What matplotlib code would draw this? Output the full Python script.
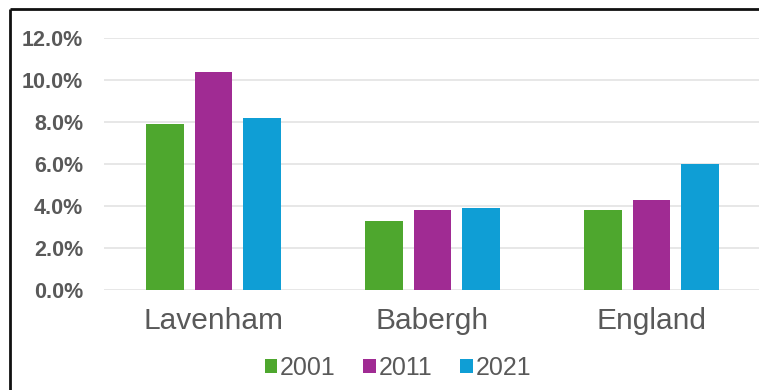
import matplotlib
matplotlib.use("Agg")
import matplotlib.pyplot as plt
from matplotlib.lines import Line2D
from matplotlib.patches import Patch
from matplotlib.ticker import FuncFormatter
import numpy as np

plt.rcParams['font.family'] = ['Liberation Sans', 'DejaVu Sans']

areas = ["Lavenham", "Babergh", "England"]
years = ["2001", "2011", "2021"]
share_2001 = [7.9, 3.3, 3.8]
share_2011 = [10.4, 3.8, 4.3]
share_2021 = [8.2, 3.9, 6.0]
series = [share_2001, share_2011, share_2021]
colors = ["#4EA72E", "#A02B93", "#0F9ED5"]
y_ticks = [0, 2, 4, 6, 8, 10, 12]

W, H = 759, 390
fig = plt.figure(figsize=(W / 100, H / 100), dpi=100)
fig.patch.set_facecolor("white")

# plot area in pixel terms
left, right, top, bottom = 104, 761, 38, 290
ax = fig.add_axes([left / W, 1 - bottom / H, (right - left) / W, (bottom - top) / H])

x = np.arange(len(areas))
bar_w = 0.17
step = 0.221
for i, (vals, c) in enumerate(zip(series, colors)):
    ax.bar(x + (i - 1) * step, vals, width=bar_w, color=c, zorder=3)

ax.set_xlim(-0.5, 2.5)
ax.set_ylim(0, 12)
ax.set_yticks(y_ticks)
ax.yaxis.set_major_formatter(FuncFormatter(lambda v, p: f"{v:.1f}%"))
ax.set_xticks(x)
ax.set_xticklabels(areas)
ax.grid(axis="y", color="#e3e3e3", linewidth=1.2, zorder=0)
ax.set_axisbelow(True)
for s in ax.spines.values():
    s.set_visible(False)
ax.tick_params(axis="y", length=0, pad=15, labelsize=15.5, labelcolor="#595959")
ax.tick_params(axis="x", length=0, pad=12, labelsize=21.5, labelcolor="#595959")
for t in ax.get_yticklabels():
    t.set_fontweight("bold")

handles = [Patch(facecolor=c, edgecolor="none") for c in colors]
fig.legend(handles, years, loc="center", bbox_to_anchor=(398 / W, 1 - 368 / H),
           ncol=3, frameon=False, fontsize=18, labelcolor="#595959",
           handlelength=0.5, handleheight=0.5, handletextpad=0.12,
           columnspacing=1.1)

# outer frame: left and top edges
fig.add_artist(Line2D([10 / W, 10 / W], [0, 1 - 9 / H], transform=fig.transFigure,
                      color="#111111", linewidth=2, solid_capstyle="butt"))
fig.add_artist(Line2D([10 / W, 1.05], [1 - 9 / H, 1 - 9 / H], transform=fig.transFigure,
                      color="#111111", linewidth=2, solid_capstyle="butt"))

fig.savefig("out.png", dpi=100)
